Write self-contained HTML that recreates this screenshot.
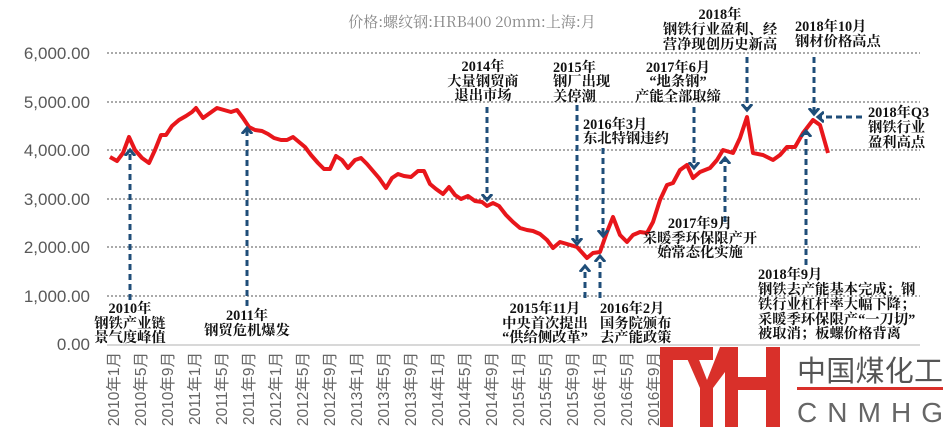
<!DOCTYPE html>
<html><head><meta charset="utf-8"><style>
body{margin:0;background:#fff}
svg{display:block}
.a{font-family:"Liberation Serif","Noto Serif CJK SC",serif;font-weight:bold;font-size:14.3px;fill:#111}
.y{font-family:"Liberation Sans",sans-serif;font-size:17px;fill:#595959}
.x{font-family:"Liberation Sans","Noto Sans CJK SC",sans-serif;font-size:15.5px;fill:#666}
</style></head><body>
<svg width="949" height="435" viewBox="0 0 949 435" xmlns="http://www.w3.org/2000/svg">
<defs><marker id="h" markerWidth="4" markerHeight="4" refX="2" refY="2" orient="auto" markerUnits="strokeWidth"><path d="M0,0.3 L2,2 L0,3.7" fill="none" stroke="#1f4e79" stroke-width="1"/></marker></defs>
<text x="472" y="27" text-anchor="middle" font-family="'Noto Serif CJK SC',serif" font-size="15" fill="#888">价格:螺纹钢:HRB400 20mm:上海:月</text>
<g stroke="#555" stroke-dasharray="2,2" stroke-width="1">
<line x1="107" y1="53" x2="920" y2="53"/><line x1="107" y1="102" x2="920" y2="102"/><line x1="107" y1="150" x2="920" y2="150"/><line x1="107" y1="199" x2="920" y2="199"/><line x1="107" y1="247" x2="920" y2="247"/><line x1="107" y1="296" x2="920" y2="296"/>
</g>
<line x1="107" y1="345" x2="920" y2="345" stroke="#ccc" stroke-width="1.5"/>
<g class="y" text-anchor="end">
<text x="90" y="59">6,000.00</text><text x="90" y="108">5,000.00</text><text x="90" y="156">4,000.00</text><text x="90" y="205">3,000.00</text><text x="90" y="253">2,000.00</text><text x="90" y="302">1,000.00</text><text x="90" y="350">0.00</text>
</g>
<g class="x">
<text transform="translate(119,352) rotate(-90)" text-anchor="end">2010年1月</text>
<text transform="translate(146,352) rotate(-90)" text-anchor="end">2010年5月</text>
<text transform="translate(173,352) rotate(-90)" text-anchor="end">2010年9月</text>
<text transform="translate(200,352) rotate(-90)" text-anchor="end">2011年1月</text>
<text transform="translate(227,352) rotate(-90)" text-anchor="end">2011年5月</text>
<text transform="translate(254,352) rotate(-90)" text-anchor="end">2011年9月</text>
<text transform="translate(281,352) rotate(-90)" text-anchor="end">2012年1月</text>
<text transform="translate(308,352) rotate(-90)" text-anchor="end">2012年5月</text>
<text transform="translate(335,352) rotate(-90)" text-anchor="end">2012年9月</text>
<text transform="translate(362,352) rotate(-90)" text-anchor="end">2013年1月</text>
<text transform="translate(389,352) rotate(-90)" text-anchor="end">2013年5月</text>
<text transform="translate(416,352) rotate(-90)" text-anchor="end">2013年9月</text>
<text transform="translate(443,352) rotate(-90)" text-anchor="end">2014年1月</text>
<text transform="translate(470,352) rotate(-90)" text-anchor="end">2014年5月</text>
<text transform="translate(497,352) rotate(-90)" text-anchor="end">2014年9月</text>
<text transform="translate(524,352) rotate(-90)" text-anchor="end">2015年1月</text>
<text transform="translate(551,352) rotate(-90)" text-anchor="end">2015年5月</text>
<text transform="translate(578,352) rotate(-90)" text-anchor="end">2015年9月</text>
<text transform="translate(605,352) rotate(-90)" text-anchor="end">2016年1月</text>
<text transform="translate(632,352) rotate(-90)" text-anchor="end">2016年5月</text>
<text transform="translate(659,352) rotate(-90)" text-anchor="end">2016年9月</text>
</g>
<polyline fill="none" stroke="#e8161b" stroke-width="4" stroke-linejoin="round" points="110,157 117,161 123,153 129,137 135,150 142,158 149,163 155,150 161,135 166,135 172,126 179,120 186,116 192,112 196,108 203,118 210,113 217,108 224,110 231,112 237,110 243,118 249,127 255,130 262,131 268,134 274,138 281,140 287,140 293,137 299,142 305,147 311,155 318,163 324,169 330,169 336,156 342,160 348,168 355,160 361,158 367,164 373,171 379,178 386,188 392,178 398,174 404,176 411,177 418,171 424,171 430,184 436,189 443,194 449,187 455,195 461,199 468,196 475,201 482,202 487,206 493,203 499,206 506,215 513,222 520,228 527,230 533,231 540,234 547,240 553,248 560,242 567,244 577,247 587,258 593,253 600,252 607,232 613,217 620,235 627,242 633,235 640,232 647,233 653,222 660,200 667,185 673,183 680,170 687,165 693,178 700,172 710,168 717,160 723,150 733,153 740,138 747,117 753,153 763,155 773,160 780,155 787,147 795,147 803,133 813,120 820,125 828,153"/>
<g stroke="#1f4e79" stroke-width="3" stroke-dasharray="6,4" fill="none" marker-end="url(#h)">
<line x1="130" y1="300" x2="130" y2="150"/>
<line x1="247" y1="306" x2="247" y2="128"/>
<line x1="487" y1="107" x2="487" y2="200"/>
<line x1="577" y1="105" x2="577" y2="244"/>
<line x1="603" y1="148" x2="603" y2="236"/>
<line x1="585" y1="298" x2="585" y2="266"/>
<line x1="600" y1="298" x2="600" y2="256"/>
<line x1="694" y1="107" x2="694" y2="168"/>
<line x1="725" y1="222" x2="725" y2="158"/>
<line x1="747" y1="57" x2="747" y2="110"/>
<line x1="814" y1="57" x2="814" y2="114"/>
<line x1="806" y1="265" x2="806" y2="131"/>
<line x1="862" y1="117" x2="818" y2="117"/>
</g>
<g class="a" text-anchor="middle">
<text x="130" y="313">2010年</text><text x="130" y="328">钢铁产业链</text><text x="130" y="342">景气度峰值</text>
<text x="247" y="320">2011年</text><text x="247" y="335">钢贸危机爆发</text>
<text x="483" y="71">2014年</text><text x="483" y="86">大量钢贸商</text><text x="483" y="100">退出市场</text>
<text x="678" y="72">2017年6月</text><text x="678" y="86">“地条钢”</text><text x="678" y="101">产能全部取缔</text>
<text x="720" y="19">2018年</text><text x="720" y="34">钢铁行业盈利、经</text><text x="720" y="49">营净现创历史新高</text>
<text x="700" y="228">2017年9月</text><text x="700" y="243">采暖季环保限产开</text><text x="700" y="257">始常态化实施</text>
<text x="545" y="313">2015年11月</text><text x="545" y="328">中央首次提出</text><text x="545" y="342">“供给侧改革”</text>
</g>
<g class="a">
<text x="553" y="72">2015年</text><text x="553" y="86">钢厂出现</text><text x="553" y="101">关停潮</text>
<text x="583" y="129">2016年3月</text><text x="583" y="143">东北特钢违约</text>
<text x="795" y="31">2018年10月</text><text x="795" y="46">钢材价格高点</text>
<text x="868" y="117">2018年Q3</text><text x="868" y="132">钢铁行业</text><text x="868" y="147">盈利高点</text>
<text x="758" y="279">2018年9月</text><text x="758" y="294">钢铁去产能基本完成；钢</text><text x="758" y="309">铁行业杠杆率大幅下降；</text><text x="758" y="324">采暖季环保限产“一刀切”</text><text x="758" y="338">被取消；板螺价格背离</text>
<text x="600" y="313">2016年2月</text><text x="600" y="328">国务院颁布</text><text x="600" y="342">去产能政策</text>
</g>
<rect x="660" y="347" width="289" height="88" fill="#fff"/>
<g fill="#d9302a">
<rect x="660" y="347" width="13" height="80"/>
<rect x="660" y="347" width="53" height="13"/>
<polygon points="682,347 694,347 707,380 720,347 738,347 738,427 725,427 725,372 713,388 713,427 700,427 700,388"/>
<rect x="725" y="377" width="55" height="13"/>
<rect x="766" y="347" width="14" height="80"/>
</g>
<text x="797" y="381" font-family="'Noto Sans CJK SC',sans-serif" font-size="29" fill="#555" textLength="146">中国煤化工</text>
<rect x="797" y="387" width="146" height="3" fill="#d9302a"/>
<text x="797" y="422" font-family="'Liberation Sans',sans-serif" font-size="28" fill="#666" textLength="146">CNMHG</text>
</svg>
</body></html>
